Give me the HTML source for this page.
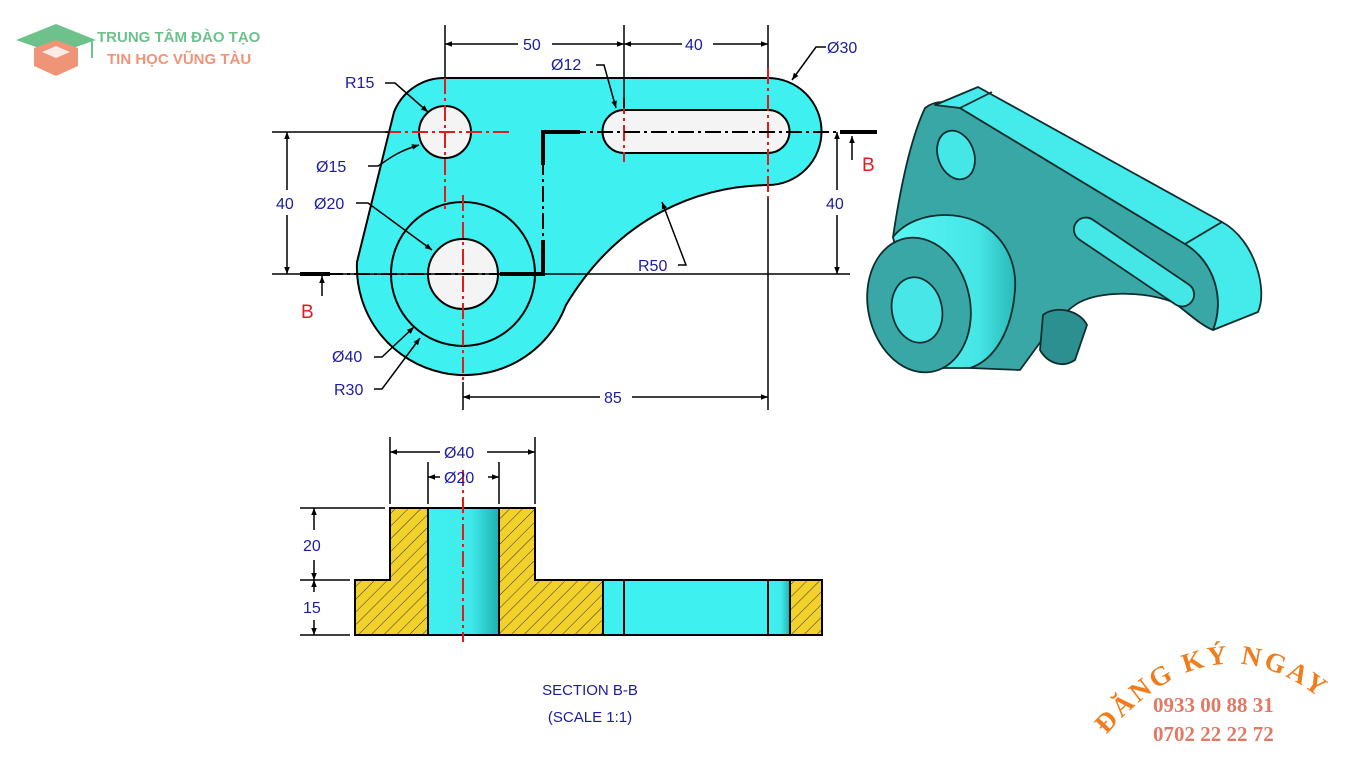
<!DOCTYPE html>
<html><head><meta charset="utf-8"><style>
html,body{margin:0;padding:0;background:#fff;}
svg{display:block;}
.s{font-family:"Liberation Sans",Arial,sans-serif;}
.sf{font-family:"Liberation Serif",serif;font-weight:bold;}
</style></head><body>
<svg width="1366" height="768" viewBox="0 0 1366 768" xmlns="http://www.w3.org/2000/svg">
<defs>
<pattern id="hatch" patternUnits="userSpaceOnUse" width="9" height="9" patternTransform="rotate(45)">
<rect width="9" height="9" fill="#f2d22a"/><line x1="0" y1="0" x2="0" y2="9" stroke="#333" stroke-width="1"/>
</pattern>
<linearGradient id="cyl" x1="0" x2="1" y1="0" y2="0">
<stop offset="0" stop-color="#3ff0f0"/><stop offset="0.6" stop-color="#40eaea"/><stop offset="1" stop-color="#1fb0b0"/>
</linearGradient>
<linearGradient id="boss" x1="0" x2="1" y1="0" y2="0">
<stop offset="0" stop-color="#5af4f4"/><stop offset="0.7" stop-color="#45e6e6"/><stop offset="1" stop-color="#2ab8b8"/>
</linearGradient>
<marker id="ar" viewBox="0 0 10 10" refX="10" refY="5" markerWidth="9" markerHeight="7" orient="auto-start-reverse" markerUnits="userSpaceOnUse"><path d="M0,1 L10,5 L0,9z" fill="#000"/></marker>
</defs>

<g>
<path d="M16,40 L56,24 L96,40 L56,54z" fill="#6dc28c"/>
<path d="M34,48 L56,40 L78,48 L78,66 L56,76 L34,66z" fill="#f09478"/>
<path d="M42,52 L56,46 L70,52 L56,58z" fill="#fff" opacity="0.8"/>
<line x1="92" y1="41" x2="92" y2="58" stroke="#6dc28c" stroke-width="2"/>
<text class="s" x="97" y="42" font-size="15" font-weight="bold" fill="#6dc28c">TRUNG TÂM ĐÀO TẠO</text>
<text class="s" x="107" y="64" font-size="15" font-weight="bold" fill="#f09478">TIN HỌC VŨNG TÀU</text>
</g>

<path d="M445,78 H768 A53,53 0 0 1 768,185 C700,186 620,215 566,305 A108,108 0 0 1 357,262 L394,112 A54,54 0 0 1 445,78 Z" fill="#3ff0f0" stroke="#000" stroke-width="2"/>
<circle cx="445" cy="132" r="26" fill="#f4f4f4" stroke="#000" stroke-width="2"/>
<circle cx="463" cy="274" r="72" fill="none" stroke="#000" stroke-width="2"/>
<circle cx="463" cy="274" r="35" fill="#f4f4f4" stroke="#000" stroke-width="2"/>
<path d="M624,110 H768 A21,21 0 0 1 768,153 H624 A21,21 0 0 1 624,110Z" fill="#f4f4f4" stroke="#000" stroke-width="2"/>

<g stroke="#e21b1b" stroke-width="2" stroke-dasharray="16,4,3,4" fill="none">
<line x1="445" y1="78" x2="445" y2="212"/>
<line x1="385" y1="132" x2="510" y2="132"/>
<line x1="463" y1="195" x2="463" y2="382"/>
<line x1="624" y1="98" x2="624" y2="162"/>
<line x1="768" y1="68" x2="768" y2="198"/>
</g>
<g stroke="#000" fill="none">
<line x1="300" y1="274" x2="543" y2="274" stroke-width="2" stroke-dasharray="16,4,3,4"/>
<line x1="543" y1="132" x2="543" y2="274" stroke-width="2" stroke-dasharray="16,4,3,4"/>
<line x1="543" y1="132" x2="877" y2="132" stroke-width="2" stroke-dasharray="16,4,3,4"/>
<path d="M500,274 H543 V240 M543,165 V132 H580" stroke-width="4"/>
<line x1="300" y1="274" x2="330" y2="274" stroke-width="4"/>
<line x1="840" y1="132" x2="877" y2="132" stroke-width="4"/>
<line x1="272" y1="274" x2="850" y2="274" stroke-width="1.5"/>
<line x1="272" y1="132" x2="390" y2="132" stroke-width="1.5"/>
</g>

<g stroke="#000" stroke-width="1.5">
<line x1="445" y1="25" x2="445" y2="78"/>
<line x1="624" y1="25" x2="624" y2="108"/>
<line x1="768" y1="25" x2="768" y2="68"/>
<line x1="768" y1="198" x2="768" y2="410"/>
<line x1="463" y1="382" x2="463" y2="410"/>
</g>
<g stroke="#000" stroke-width="1.5" fill="none">
<line x1="445" y1="44" x2="518" y2="44" marker-start="url(#ar)"/>
<line x1="552" y1="44" x2="624" y2="44" marker-end="url(#ar)"/>
<line x1="624" y1="44" x2="682" y2="44" marker-start="url(#ar)"/>
<line x1="713" y1="44" x2="768" y2="44" marker-end="url(#ar)"/>
<line x1="287" y1="132" x2="287" y2="190" marker-start="url(#ar)"/>
<line x1="287" y1="215" x2="287" y2="274" marker-end="url(#ar)"/>
<line x1="837" y1="132" x2="837" y2="190" marker-start="url(#ar)"/>
<line x1="837" y1="215" x2="837" y2="274" marker-end="url(#ar)"/>
<line x1="463" y1="397" x2="600" y2="397" marker-start="url(#ar)"/>
<line x1="632" y1="397" x2="768" y2="397" marker-end="url(#ar)"/>
<path d="M385,83 H395 L428,112" marker-end="url(#ar)"/>
<path d="M368,166 H378 C385,162 395,152 419,145" marker-end="url(#ar)"/>
<path d="M356,203 H368 L432,250" marker-end="url(#ar)"/>
<path d="M596,65 H604 L616,108" marker-end="url(#ar)"/>
<path d="M826,47 H816 L792,80" marker-end="url(#ar)"/>
<path d="M678,265 H686 L662,202" marker-end="url(#ar)"/>
<path d="M374,357 H382 L414,327" marker-end="url(#ar)"/>
<path d="M374,389 H382 L420,338" marker-end="url(#ar)"/>
<line x1="322" y1="296" x2="322" y2="276" marker-end="url(#ar)"/>
<line x1="852" y1="160" x2="852" y2="136" marker-end="url(#ar)"/>
</g>
<g class="s" font-size="16" fill="#1c1ca0">
<text x="523" y="50">50</text>
<text x="685" y="50">40</text>
<text x="827" y="53">Ø30</text>
<text x="551" y="70">Ø12</text>
<text x="345" y="88">R15</text>
<text x="316" y="172">Ø15</text>
<text x="276" y="209">40</text>
<text x="314" y="209">Ø20</text>
<text x="826" y="209">40</text>
<text x="638" y="271">R50</text>
<text x="332" y="362">Ø40</text>
<text x="334" y="395">R30</text>
<text x="604" y="403">85</text>
</g>
<text class="s" x="301" y="318" font-size="19" fill="#e21b1b">B</text>
<text class="s" x="862" y="171" font-size="19" fill="#e21b1b">B</text>

<g stroke="#000" stroke-width="2">
<path d="M390,508 H428 V635 H355 V580 H390Z" fill="url(#hatch)"/>
<path d="M499,508 H535 V580 H603 V635 H499Z" fill="url(#hatch)"/>
<rect x="428" y="508" width="71" height="127" fill="url(#cyl)"/>
<rect x="603" y="580" width="187" height="55" fill="#3ff0f0"/>
<rect x="768" y="580" width="22" height="55" fill="url(#cyl)"/>
<rect x="790" y="580" width="32" height="55" fill="url(#hatch)"/>
<line x1="624" y1="580" x2="624" y2="635"/>
</g>
<line x1="463" y1="470" x2="463" y2="642" stroke="#e21b1b" stroke-width="2" stroke-dasharray="16,4,3,4"/>
<g stroke="#000" stroke-width="1.5" fill="none">
<line x1="390" y1="437" x2="390" y2="504"/>
<line x1="535" y1="437" x2="535" y2="504"/>
<line x1="428" y1="462" x2="428" y2="504"/>
<line x1="499" y1="462" x2="499" y2="504"/>
<line x1="300" y1="508" x2="385" y2="508"/>
<line x1="300" y1="580" x2="350" y2="580"/>
<line x1="300" y1="635" x2="350" y2="635"/>
<line x1="390" y1="452" x2="440" y2="452" marker-start="url(#ar)"/>
<line x1="487" y1="452" x2="535" y2="452" marker-end="url(#ar)"/>
<line x1="428" y1="477" x2="440" y2="477" marker-start="url(#ar)"/>
<line x1="488" y1="477" x2="499" y2="477" marker-end="url(#ar)"/>
<line x1="314" y1="508" x2="314" y2="530" marker-start="url(#ar)"/>
<line x1="314" y1="560" x2="314" y2="580" marker-end="url(#ar)"/>
<line x1="314" y1="580" x2="314" y2="592" marker-start="url(#ar)"/>
<line x1="314" y1="620" x2="314" y2="635" marker-end="url(#ar)"/>
</g>
<g class="s" font-size="16" fill="#1c1ca0">
<text x="444" y="458">Ø40</text>
<text x="444" y="483">Ø20</text>
<text x="303" y="551">20</text>
<text x="303" y="613">15</text>
<text x="590" y="695" text-anchor="middle" font-size="15">SECTION B-B</text>
<text x="590" y="722" text-anchor="middle" font-size="15">(SCALE 1:1)</text>
</g>

<g stroke="#0e2e2e" stroke-width="1.8" stroke-linejoin="round">
<path d="M925,108 C935,100 950,100 960,108 L1185,244 C1215,262 1225,300 1213,330 C1200,325 1185,310 1173,302 C1140,290 1100,292 1080,302 C1065,310 1055,325 1047,333 L1020,370 L970,368 L893,237 C900,190 910,140 925,108 Z" fill="#3aa7a7"/>
<path d="M935,105 L978,87 L1222,222 L1185,244 L960,108 Z" fill="#45eaea"/>
<line x1="960" y1="108" x2="992" y2="92"/>
<path d="M1185,244 L1222,222 C1255,240 1268,290 1258,312 L1213,330 C1225,300 1215,262 1185,244 Z" fill="#45eaea"/>
<path d="M1043,315 C1055,305 1080,310 1087,325 L1075,360 C1060,370 1045,360 1040,350Z" fill="#2c9090"/>
<ellipse cx="956" cy="155" rx="18" ry="25" transform="rotate(-20 956 155)" fill="#45e6e6"/>
<g transform="translate(1134,262) rotate(34)">
<rect x="-70" y="-12" width="140" height="24" rx="12" fill="#45e6e6"/>
</g>
<path d="M893,237 C905,222 925,215 945,215 C990,215 1018,250 1015,290 C1012,330 995,360 970,368 L925,368 Z" fill="url(#boss)"/>
<ellipse cx="919" cy="305" rx="51" ry="68" transform="rotate(-12 919 305)" fill="#3aa7a7"/>
<ellipse cx="917" cy="310" rx="25" ry="33" transform="rotate(-12 917 310)" fill="#48e6e6"/>
</g>

<path id="arc" d="M1106,735 Q1228,596 1352,728" fill="none"/>
<text class="sf" font-size="27" fill="#f07d1c" letter-spacing="3"><textPath href="#arc">ĐĂNG KÝ NGAY</textPath></text>
<text class="sf" x="1153" y="712" font-size="21" fill="#e07a66">0933 00 88 31</text>
<text class="sf" x="1153" y="741" font-size="21" fill="#e07a66">0702 22 22 72</text>
</svg>
</body></html>
